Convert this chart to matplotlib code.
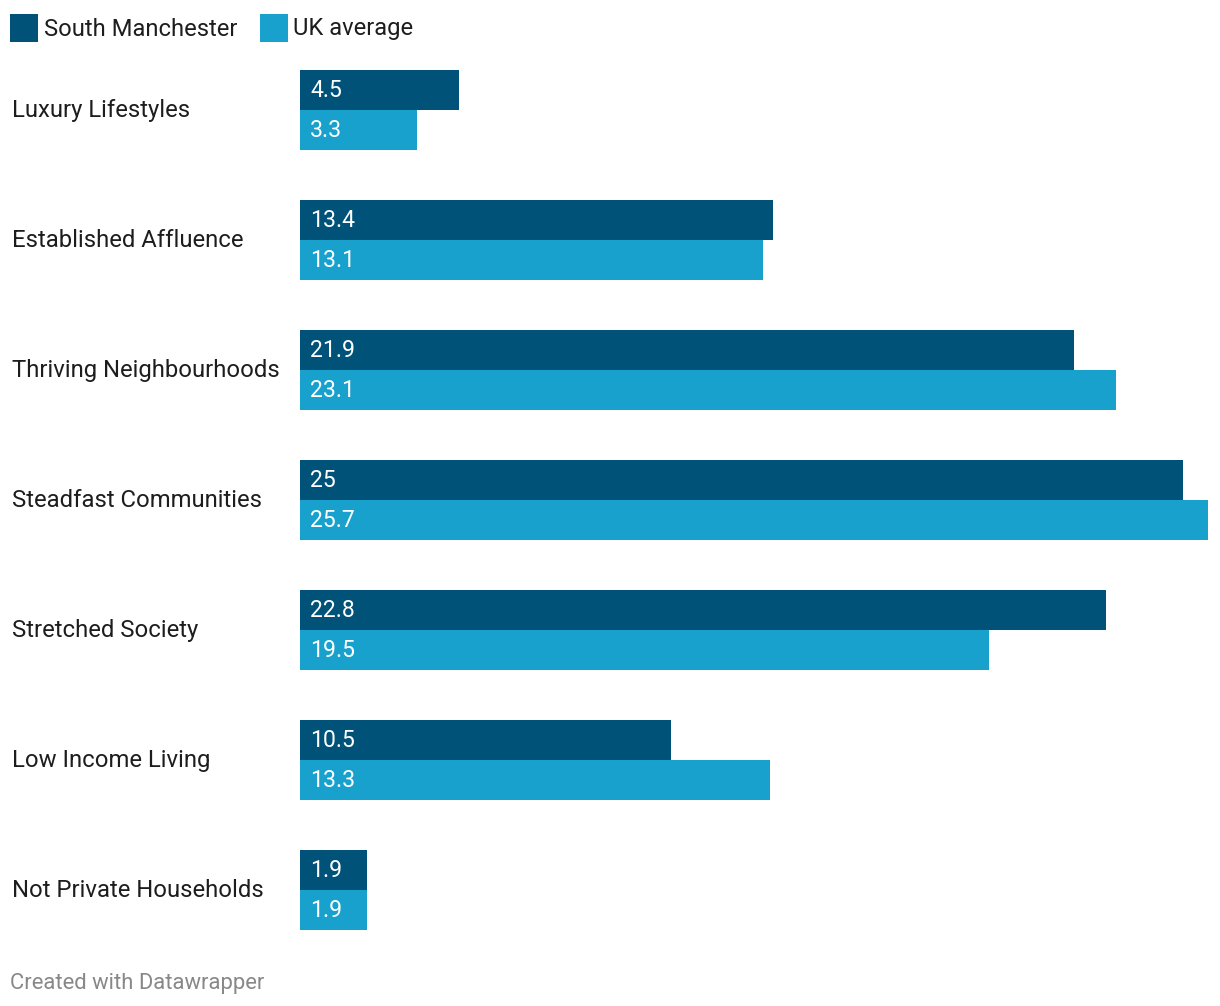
import numpy as np
import matplotlib.pyplot as plt
from matplotlib.transforms import blended_transform_factory
from matplotlib.patches import Rectangle

plt.rcParams['font.family'] = ['Roboto', 'DejaVu Sans']

categories = ['Luxury Lifestyles', 'Established Affluence', 'Thriving Neighbourhoods',
              'Steadfast Communities', 'Stretched Society', 'Low Income Living',
              'Not Private Households']
south_manchester = [4.5, 13.4, 21.9, 25, 22.8, 10.5, 1.9]
uk_average = [3.3, 13.1, 23.1, 25.7, 19.5, 13.3, 1.9]
series_names = ['South Manchester', 'UK average']

DARK = '#005279'
LIGHT = '#18a1cd'
W, H = 1220, 1006

fig = plt.figure(figsize=(W / 100, H / 100), dpi=100)
# axes placed in pixel terms: bars start at x=300, max bar ends at 1208
ax = fig.add_axes([300 / W, 1 - 955 / H, 908 / W, 910 / H])
ax.set_xlim(0, max(uk_average))
ax.set_ylim(len(categories) - 0.5, -0.5)
ax.axis('off')

bh = 40 / 130
y = np.arange(len(categories))
ax.barh(y - bh / 2, south_manchester, height=bh, color=DARK, linewidth=0)
ax.barh(y + bh / 2, uk_average, height=bh, color=LIGHT, linewidth=0)

lab_tr = blended_transform_factory(fig.transFigure, ax.transData)
for i, cat in enumerate(categories):
    fig.text(12 / W, i, cat, transform=lab_tr, ha='left', va='center',
             fontsize=17.2, color='#1d1d1d')
    ax.text(310 / W, i - bh / 2, f'{south_manchester[i]:g}', transform=lab_tr,
            ha='left', va='center', fontsize=16.6, color='white')
    ax.text(310 / W, i + bh / 2, f'{uk_average[i]:g}', transform=lab_tr,
            ha='left', va='center', fontsize=16.6, color='white')

# legend
for x0, tx, name, col in [(10, 44, series_names[0], DARK), (260, 293, series_names[1], LIGHT)]:
    fig.patches.append(Rectangle((x0 / W, 1 - 42 / H), 28 / W, 28 / H,
                                 transform=fig.transFigure, color=col, linewidth=0))
    fig.text(tx / W, 1 - 29 / H, name, ha='left', va='center',
             fontsize=17.1, color='#1d1d1d')

fig.text(10 / W, 1 - 983 / H, 'Created with Datawrapper', ha='left', va='center',
         fontsize=15.8, color='#888888')

fig.savefig('out.png', dpi=100)
